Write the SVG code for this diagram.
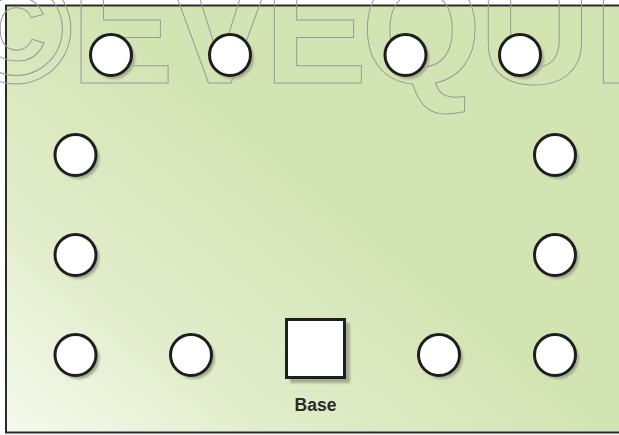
<svg xmlns="http://www.w3.org/2000/svg" width="619" height="435" viewBox="0 0 619 435">
  <defs>
    <linearGradient id="bg" gradientUnits="userSpaceOnUse" x1="0" y1="435" x2="250" y2="130">
      <stop offset="0" stop-color="#f6faef"/>
      <stop offset="0.45" stop-color="#e2edcb"/>
      <stop offset="1" stop-color="#d3e4b3"/>
    </linearGradient>
    <filter id="soft" x="-20%" y="-20%" width="140%" height="140%">
      <feGaussianBlur stdDeviation="0.8"/>
    </filter>
  </defs>
  <style>
    .frame { fill: url(#bg); stroke: #2b2b2b; stroke-width: 2; }
    .mark { font-family: "Liberation Sans", Arial, sans-serif; font-weight: bold; font-size: 155px; fill: none; stroke: #9a9a9a; stroke-width: 1; }
    .shadow { fill: #a3ad90; filter: url(#soft); }
    .spot { fill: #ffffff; stroke: #1e1e1e; stroke-width: 3; }
    .label { font-family: "Liberation Sans", Arial, sans-serif; font-weight: bold; font-size: 17.5px; fill: #2a2a2a; text-anchor: middle; }
  </style>

  <rect x="0" y="0" width="619" height="435" fill="#ffffff"/>
  <rect class="frame" x="6" y="5.5" width="640" height="427"/>

  <!-- outlined watermark lettering -->
  <text class="mark" y="83" x="-41 70.7 168 264 361 479 593">©EVEQUI</text>

  <!-- stations -->
  <g id="n-top-1"><circle class="shadow" cx="114" cy="58" r="21"/><circle class="spot" cx="111" cy="55" r="20.5"/></g>
  <g id="n-top-2"><circle class="shadow" cx="233" cy="58" r="21"/><circle class="spot" cx="230" cy="55" r="20.5"/></g>
  <g id="n-top-3"><circle class="shadow" cx="408.5" cy="58" r="21"/><circle class="spot" cx="405.5" cy="55" r="20.5"/></g>
  <g id="n-top-4"><circle class="shadow" cx="523" cy="58" r="21"/><circle class="spot" cx="520" cy="55" r="20.5"/></g>

  <g id="n-left-1"><circle class="shadow" cx="78.5" cy="158" r="21"/><circle class="spot" cx="75.5" cy="155" r="20.5"/></g>
  <g id="n-left-2"><circle class="shadow" cx="78.5" cy="258" r="21"/><circle class="spot" cx="75.5" cy="255" r="20.5"/></g>
  <g id="n-left-3"><circle class="shadow" cx="78.5" cy="358" r="21"/><circle class="spot" cx="75.5" cy="355" r="20.5"/></g>

  <g id="n-right-1"><circle class="shadow" cx="558" cy="158" r="21"/><circle class="spot" cx="555" cy="155" r="20.5"/></g>
  <g id="n-right-2"><circle class="shadow" cx="558" cy="258" r="21"/><circle class="spot" cx="555" cy="255" r="20.5"/></g>
  <g id="n-right-3"><circle class="shadow" cx="558" cy="358" r="21"/><circle class="spot" cx="555" cy="355" r="20.5"/></g>

  <g id="n-bottom-1"><circle class="shadow" cx="194" cy="358" r="21"/><circle class="spot" cx="191" cy="355" r="20.5"/></g>
  <g id="n-bottom-2"><circle class="shadow" cx="442" cy="358" r="21"/><circle class="spot" cx="439" cy="355" r="20.5"/></g>

  <g id="base">
    <rect class="shadow" x="290" y="323" width="60" height="60"/>
    <rect class="spot" x="286.5" y="319.5" width="58" height="58"/>
    <text class="label" x="315.5" y="410.5">Base</text>
  </g>

  <g id="connectors"/>
</svg>
